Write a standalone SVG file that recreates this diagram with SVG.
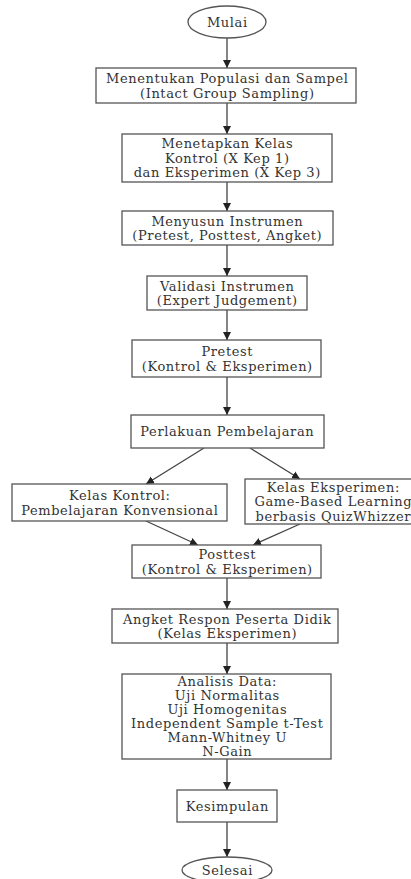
<svg xmlns="http://www.w3.org/2000/svg" width="411" height="879" viewBox="0 0 411 879">
<style>
.n{fill:#fff;stroke:#555;stroke-width:1.3}
.t{font-family:"DejaVu Serif",serif;font-size:13px;letter-spacing:0.6px;fill:#333;text-anchor:middle}
.c{stroke:#444;stroke-width:1.3;fill:none;marker-end:url(#ah)}
</style>
<defs>
<marker id="ah" markerWidth="9" markerHeight="9" refX="8" refY="4.5" orient="auto" markerUnits="userSpaceOnUse">
<path d="M0,0.5 L8,4.5 L0,8.5 z" fill="#222"/>
</marker>
</defs>
<rect width="411" height="879" fill="#fff"/>
<g id="connectors">
<line class="c" x1="227" y1="38" x2="227" y2="68"/>
<line class="c" x1="227" y1="103" x2="227" y2="134"/>
<line class="c" x1="227" y1="182" x2="227" y2="211"/>
<line class="c" x1="227" y1="245" x2="227" y2="276"/>
<line class="c" x1="227" y1="310" x2="227" y2="340"/>
<line class="c" x1="227" y1="377" x2="227" y2="415"/>
<line class="c" x1="204" y1="448" x2="146" y2="484"/>
<line class="c" x1="250" y1="448" x2="300" y2="479"/>
<line class="c" x1="146" y1="521" x2="198" y2="545"/>
<line class="c" x1="300" y1="524" x2="253" y2="545"/>
<line class="c" x1="227" y1="578" x2="227" y2="609"/>
<line class="c" x1="227" y1="643" x2="227" y2="674"/>
<line class="c" x1="227" y1="759" x2="227" y2="790"/>
<line class="c" x1="227" y1="822" x2="227" y2="857"/>
</g>
<g id="mulai"><ellipse class="n" cx="227" cy="22" rx="39" ry="16"/><text class="t" x="227.3" y="26.7">Mulai</text></g>
<g id="populasi"><rect class="n" x="96" y="68" width="260" height="35"/><text class="t" x="227.3" y="83">Menentukan Populasi dan Sampel</text><text class="t" x="227.3" y="97.5">(Intact Group Sampling)</text></g>
<g id="kelas"><rect class="n" x="122" y="134" width="210" height="48"/><text class="t" x="227.3" y="148.2">Menetapkan Kelas</text><text class="t" x="227.3" y="162.7">Kontrol (X Kep 1)</text><text class="t" x="227.3" y="177.2">dan Eksperimen (X Kep 3)</text></g>
<g id="instrumen"><rect class="n" x="122" y="211" width="211" height="34"/><text class="t" x="227.3" y="225.5">Menyusun Instrumen</text><text class="t" x="227.3" y="240">(Pretest, Posttest, Angket)</text></g>
<g id="validasi"><rect class="n" x="147" y="276" width="160" height="34"/><text class="t" x="227.3" y="290.5">Validasi Instrumen</text><text class="t" x="227.3" y="305">(Expert Judgement)</text></g>
<g id="pretest"><rect class="n" x="132" y="340" width="189" height="37"/><text class="t" x="227.3" y="356">Pretest</text><text class="t" x="227.3" y="370.5">(Kontrol &amp; Eksperimen)</text></g>
<g id="perlakuan"><rect class="n" x="131" y="415" width="193" height="33"/><text class="t" x="227.3" y="436">Perlakuan Pembelajaran</text></g>
<g id="kontrol"><rect class="n" x="12" y="484" width="215" height="37"/><text class="t" x="119.8" y="500">Kelas Kontrol:</text><text class="t" x="119.8" y="514.5">Pembelajaran Konvensional</text></g>
<g id="eksperimen"><rect class="n" x="245" y="479" width="170" height="45"/><text class="t" x="333.3" y="491.7">Kelas Eksperimen:</text><text class="t" x="333.3" y="506.2">Game-Based Learning</text><text class="t" x="333.3" y="520.7">berbasis QuizWhizzer</text></g>
<g id="posttest"><rect class="n" x="132" y="545" width="189" height="33"/><text class="t" x="227.3" y="559">Posttest</text><text class="t" x="227.3" y="573.5">(Kontrol &amp; Eksperimen)</text></g>
<g id="angket"><rect class="n" x="112" y="609" width="226" height="34"/><text class="t" x="227.3" y="623.5">Angket Respon Peserta Didik</text><text class="t" x="227.3" y="638">(Kelas Eksperimen)</text></g>
<g id="analisis"><rect class="n" x="122" y="674" width="209" height="85"/><text class="t" x="227.3" y="686.2">Analisis Data:</text><text class="t" x="227.3" y="700.2">Uji Normalitas</text><text class="t" x="227.3" y="714.2">Uji Homogenitas</text><text class="t" x="227.3" y="728.2">Independent Sample t-Test</text><text class="t" x="227.3" y="742.2">Mann-Whitney U</text><text class="t" x="227.3" y="756.2">N-Gain</text></g>
<g id="kesimpulan"><rect class="n" x="177" y="790" width="100" height="32"/><text class="t" x="227.3" y="810.7">Kesimpulan</text></g>
<g id="selesai"><ellipse class="n" cx="227" cy="870" rx="45" ry="13"/><text class="t" x="227.3" y="874.7">Selesai</text></g>
</svg>
